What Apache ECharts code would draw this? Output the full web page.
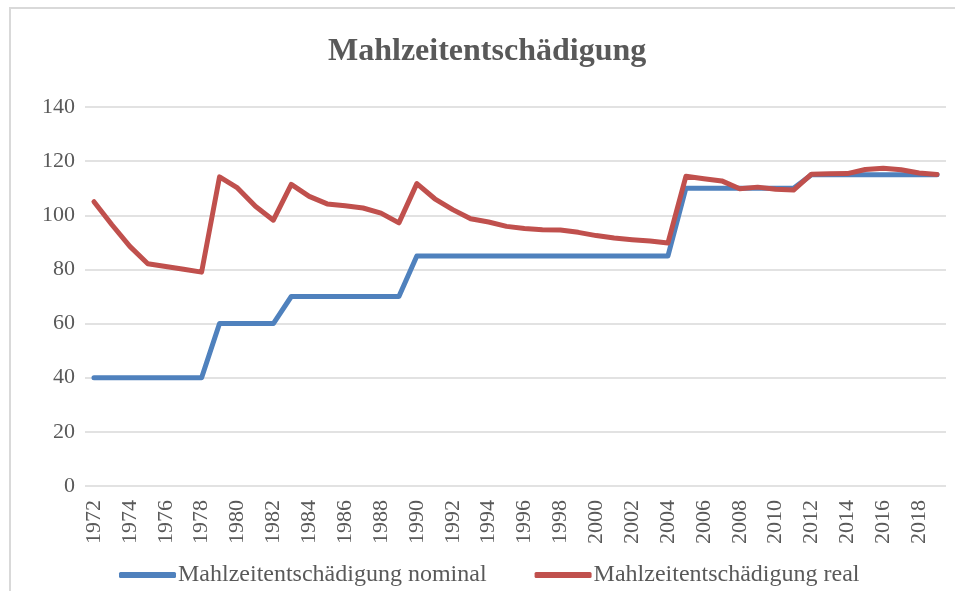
<!DOCTYPE html>
<html>
<head>
<meta charset="utf-8">
<script src="https://cdn.jsdelivr.net/npm/echarts@6/dist/echarts.min.js"></script>
<style>
  html, body { margin: 0; padding: 0; background: #ffffff; }
  #chart { width: 955px; height: 591px; }
</style>
</head>
<body>
<div id="chart"></div>
<script>
// Years 1972–2019
const years = [
  '1972','1973','1974','1975','1976','1977','1978','1979','1980','1981',
  '1982','1983','1984','1985','1986','1987','1988','1989','1990','1991',
  '1992','1993','1994','1995','1996','1997','1998','1999','2000','2001',
  '2002','2003','2004','2005','2006','2007','2008','2009','2010','2011',
  '2012','2013','2014','2015','2016','2017','2018','2019'
];

// Nominal meal allowance
const nominal = [
  40, 40, 40, 40, 40, 40, 40, 60, 60, 60,
  60, 70, 70, 70, 70, 70, 70, 70, 85, 85,
  85, 85, 85, 85, 85, 85, 85, 85, 85, 85,
  85, 85, 85, 110, 110, 110, 110, 110, 110, 110,
  115, 115, 115, 115, 115, 115, 115, 115
];

// Inflation-adjusted meal allowance
const real = [
  105.0, 96.5, 88.5, 82.1, 81.1, 80.1, 79.0, 114.2, 110.1, 103.3,
  98.2, 111.4, 107.0, 104.2, 103.5, 102.7, 100.8, 97.2, 111.7, 106.1,
  102.1, 98.7, 97.5, 95.9, 95.1, 94.7, 94.6, 93.7, 92.5, 91.6,
  91.0, 90.5, 89.8, 114.4, 113.5, 112.7, 109.8, 110.4, 109.6, 109.3,
  115.2, 115.3, 115.4, 116.9, 117.4, 116.8, 115.6, 115.1
];

const yTicks = { min: 0, max: 140, step: 20 };

const FONT = "'Liberation Serif', 'Times New Roman', serif";
const TXT = '#595959';

const chart = echarts.init(document.getElementById('chart'), null, { renderer: 'canvas' });

chart.setOption({
  animation: false,
  backgroundColor: '#ffffff',
  graphic: [{
    type: 'rect',
    z: -10,
    shape: { x: 10, y: 8, width: 1000, height: 1000 },
    style: { fill: 'none', stroke: '#d9d9d9', lineWidth: 2 }
  }],
  title: {
    text: 'Mahlzeitentschädigung',
    left: 323,
    top: 31,
    textStyle: { fontFamily: FONT, fontSize: 32, fontWeight: 'bold', color: TXT }
  },
  grid: { left: 85, right: 9, top: 107, bottom: 105, containLabel: false },
  xAxis: {
    type: 'category',
    data: years,
    boundaryGap: true,
    axisLine: { show: false },
    axisTick: { show: false },
    axisLabel: {
      interval: 1,
      rotate: 90,
      margin: 14,
      fontFamily: FONT,
      fontSize: 22,
      color: TXT
    },
    splitLine: { show: false }
  },
  yAxis: {
    type: 'value',
    min: yTicks.min,
    max: yTicks.max,
    interval: yTicks.step,
    axisLine: { show: false },
    axisTick: { show: false },
    axisLabel: { margin: 10, fontFamily: FONT, fontSize: 22, color: TXT },
    splitLine: { lineStyle: { color: '#d9d9d9', width: 1.5 } }
  },
  legend: {
    left: 114,
    top: 558,
    itemWidth: 57,
    itemHeight: 6,
    itemGap: 48,
    icon: 'roundRect',
    textStyle: { fontFamily: FONT, fontSize: 24, color: TXT, padding: [0, 0, 0, -3] },
    data: ['Mahlzeitentschädigung nominal', 'Mahlzeitentschädigung real']
  },
  series: [
    {
      name: 'Mahlzeitentschädigung nominal',
      type: 'line',
      data: nominal,
      showSymbol: false,
      symbol: 'none',
      color: '#4F81BD',
      lineStyle: { width: 5, color: '#4F81BD', cap: 'round', join: 'round' }
    },
    {
      name: 'Mahlzeitentschädigung real',
      type: 'line',
      data: real,
      showSymbol: false,
      symbol: 'none',
      color: '#C0504D',
      lineStyle: { width: 5, color: '#C0504D', cap: 'round', join: 'round' }
    }
  ]
});
</script>
</body>
</html>
